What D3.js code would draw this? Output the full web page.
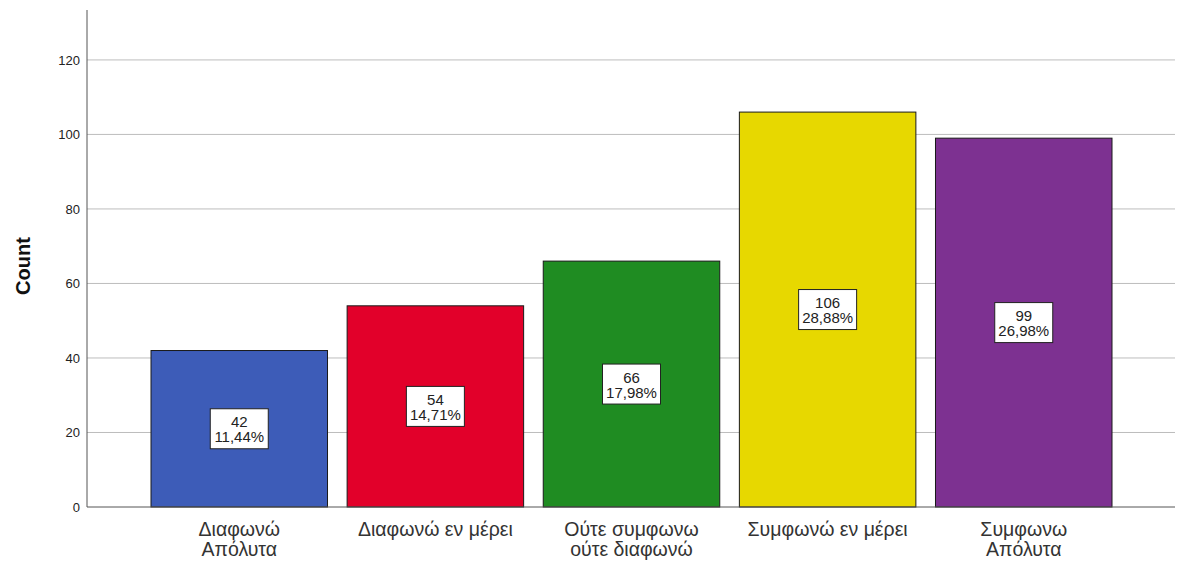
<!DOCTYPE html>
<html>
<head>
<meta charset="utf-8">
<script src="https://cdn.jsdelivr.net/npm/d3@7"></script>
<style>
  body { margin: 0; background: #fff; }
  text { font-family: "Liberation Sans", Arial, sans-serif; }
</style>
</head>
<body>
<svg width="1182" height="565"></svg>
<script>
// data
const categories = [
  ["Διαφωνώ", "Απόλυτα"],
  ["Διαφωνώ εν μέρει"],
  ["Ούτε συμφωνω", "ούτε διαφωνώ"],
  ["Συμφωνώ εν μέρει"],
  ["Συμφωνω", "Απόλυτα"]
]
const counts = [42, 54, 66, 106, 99]
const percents = ["11,44%", "14,71%", "17,98%", "28,88%", "26,98%"]
const barColors = ["#3d5cb8", "#e2002a", "#1f8c22", "#e7d800", "#7d3191"]
const yTicks = [0, 20, 40, 60, 80, 100, 120]

const svg = d3.select("svg")

const x = d3.scaleBand()
  .domain(d3.range(counts.length))
  .range([151, 1112])
  .paddingInner(0.1)
  .paddingOuter(0)

const y = d3.scaleLinear()
  .domain([0, 133.4])
  .range([507, 10])

// gridlines
svg.append("g")
  .selectAll("line")
  .data(yTicks.slice(1))
  .join("line")
  .attr("x1", 87)
  .attr("x2", 1175)
  .attr("y1", d => y(d))
  .attr("y2", d => y(d))
  .attr("stroke", "#bdbdbd")
  .attr("stroke-width", 1)

// bars
svg.append("g")
  .selectAll("rect")
  .data(counts)
  .join("rect")
  .attr("x", (d, i) => x(i))
  .attr("y", d => y(d))
  .attr("width", x.bandwidth())
  .attr("height", d => y(0) - y(d))
  .attr("fill", (d, i) => barColors[i])
  .attr("stroke", "#1a1a1a")
  .attr("stroke-width", 1)

// y axis
const yAxis = d3.axisLeft(y).tickValues(yTicks).tickSize(0).tickPadding(7)
const gy = svg.append("g").attr("transform", "translate(87,0)").call(yAxis)
gy.select(".domain").remove()
gy.selectAll("text")
  .attr("font-size", 13)
  .attr("fill", "#222")
  .style("font-family", "'Liberation Sans', Arial, sans-serif")

svg.append("line")
  .attr("x1", 87).attr("x2", 87)
  .attr("y1", 10).attr("y2", y(0))
  .attr("stroke", "#555")
svg.append("line")
  .attr("x1", 87).attr("x2", 1175)
  .attr("y1", y(0)).attr("y2", y(0))
  .attr("stroke", "#555")

// axis title
svg.append("text")
  .attr("transform", "translate(30," + 266 + ") rotate(-90)")
  .attr("text-anchor", "middle")
  .attr("font-size", 20)
  .attr("font-weight", "bold")
  .attr("fill", "#111")
  .text("Count")

// x labels, one text per line
const xg = svg.append("g")
  .selectAll("g")
  .data(categories)
  .join("g")
  .attr("transform", (d, i) => "translate(" + (x(i) + x.bandwidth() / 2) + ",0)")
xg.selectAll("text")
  .data(d => d)
  .join("text")
  .attr("x", 0)
  .attr("y", (d, i) => 536 + i * 20)
  .attr("text-anchor", "middle")
  .attr("font-size", 19.5)
  .attr("fill", "#333")
  .text(d => d)

// value labels
const lab = svg.append("g")
  .selectAll("g")
  .data(counts)
  .join("g")
  .attr("transform", (d, i) => "translate(" + (x(i) + x.bandwidth() / 2) + "," + ((y(0) + y(d)) / 2) + ")")

lab.append("rect")
  .attr("x", -29).attr("y", -20)
  .attr("width", 58).attr("height", 40)
  .attr("fill", "#fff")
  .attr("stroke", "#222")
  .attr("stroke-width", 1)

lab.append("text")
  .attr("text-anchor", "middle")
  .attr("y", -7)
  .attr("dominant-baseline", "central")
  .attr("font-size", 15)
  .attr("fill", "#222")
  .text(d => d)

lab.append("text")
  .attr("text-anchor", "middle")
  .attr("y", 8)
  .attr("dominant-baseline", "central")
  .attr("font-size", 15)
  .attr("fill", "#222")
  .text((d, i) => percents[i])
</script>
</body>
</html>
